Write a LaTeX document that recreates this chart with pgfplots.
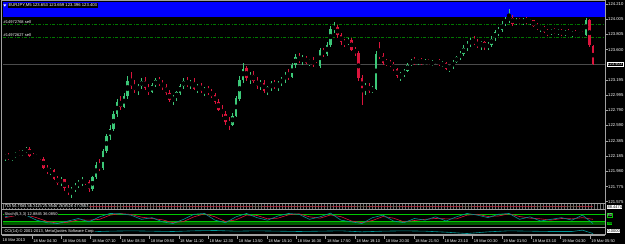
\documentclass[border=0pt]{standalone}
\usepackage{pgfplots}
\pgfplotsset{compat=1.18}
\usepackage{pgfplotstable}
\usepackage{fontspec}
\setmainfont{Liberation Sans}
\usetikzlibrary{patterns}
\definecolor{bull}{RGB}{60,200,120}
\definecolor{bear}{RGB}{220,20,60}
\definecolor{sep}{RGB}{160,160,160}
\definecolor{hatch}{RGB}{110,110,110}
\definecolor{ordgreen}{RGB}{0,120,0}
\definecolor{lvl}{RGB}{0,200,0}
\definecolor{band}{RGB}{0,90,0}
\definecolor{tealc}{RGB}{0,150,150}
\definecolor{bidc}{RGB}{75,75,75}
\newcommand\tf{\fontsize{4.2}{5}\selectfont}
\newcommand\smf{\fontsize{4}{5}\selectfont}

\pgfplotstableread{
k o h l c
0 122.17 122.21 122.12 122.19
1 122.19 122.22 122.13 122.15
2 122.15 122.19 122.12 122.17
3 122.17 122.24 122.16 122.22
4 122.22 122.27 122.19 122.21
5 122.21 122.26 122.18 122.24
6 122.24 122.30 122.22 122.28
7 122.28 122.30 122.17 122.19
8 122.19 122.22 122.14 122.16
9 122.16 122.21 122.14 122.19
10 122.19 122.20 122.13 122.15
11 122.15 122.17 122.01 122.03
12 122.03 122.06 121.94 121.97
13 121.97 122.02 121.93 122.00
14 122.00 122.01 121.86 121.88
15 121.88 121.92 121.80 121.83
16 121.83 121.90 121.79 121.87
17 121.87 121.88 121.72 121.75
18 121.75 121.80 121.66 121.70
19 121.70 121.77 121.62 121.74
20 121.74 121.82 121.70 121.79
21 121.79 121.86 121.76 121.83
22 121.83 121.90 121.78 121.86
23 121.86 121.88 121.80 121.84
24 121.84 121.86 121.70 121.74
25 121.74 121.92 121.72 121.90
26 121.90 122.10 121.88 122.06
27 122.06 122.14 121.98 122.02
28 122.02 122.28 122.00 122.25
29 122.25 122.48 122.22 122.45
30 122.45 122.60 122.40 122.55
31 122.55 122.78 122.52 122.74
32 122.74 122.95 122.70 122.90
33 122.90 122.98 122.80 122.84
34 122.84 123.02 122.82 122.98
35 122.98 123.25 122.95 123.18
36 123.18 123.30 123.08 123.12
37 123.12 123.20 123.02 123.06
38 123.06 123.15 123.00 123.12
39 123.12 123.22 123.08 123.18
40 123.18 123.24 123.06 123.09
41 123.09 123.14 123.00 123.04
42 123.04 123.16 123.02 123.13
43 123.13 123.22 123.10 123.19
44 123.19 123.24 123.12 123.15
45 123.15 123.20 123.07 123.10
46 123.10 123.14 123.00 123.02
47 123.02 123.06 122.90 122.93
48 122.93 123.00 122.86 122.97
49 122.97 123.05 122.92 123.03
50 123.03 123.15 123.00 123.12
51 123.12 123.22 123.08 123.18
52 123.18 123.24 123.10 123.13
53 123.13 123.20 123.08 123.17
54 123.17 123.22 123.06 123.08
55 123.08 123.14 123.02 123.11
56 123.11 123.16 123.03 123.05
57 123.05 123.10 122.98 123.07
58 123.07 123.12 123.00 123.03
59 123.03 123.08 122.96 122.99
60 122.99 123.02 122.88 122.90
61 122.90 122.94 122.78 122.80
62 122.80 122.86 122.70 122.74
63 122.74 122.78 122.60 122.64
64 122.64 122.70 122.53 122.60
65 122.60 122.76 122.58 122.72
66 122.72 122.98 122.70 122.95
67 122.95 123.25 122.92 123.20
68 123.20 123.42 123.15 123.35
69 123.35 123.38 123.18 123.22
70 123.22 123.30 123.14 123.26
71 123.26 123.32 123.15 123.18
72 123.18 123.24 123.08 123.12
73 123.12 123.20 123.06 123.16
74 123.16 123.19 123.02 123.05
75 123.05 123.12 123.00 123.10
76 123.10 123.18 123.05 123.15
77 123.15 123.20 123.08 123.11
78 123.11 123.18 123.05 123.16
79 123.16 123.24 123.12 123.21
80 123.21 123.30 123.16 123.27
81 123.27 123.34 123.20 123.24
82 123.24 123.42 123.22 123.40
83 123.40 123.54 123.36 123.50
84 123.50 123.56 123.42 123.45
85 123.45 123.53 123.40 123.49
86 123.49 123.52 123.41 123.43
87 123.43 123.48 123.38 123.46
88 123.46 123.50 123.37 123.40
89 123.40 123.44 123.35 123.38
90 123.38 123.63 123.36 123.60
91 123.60 123.62 123.50 123.54
92 123.54 123.70 123.52 123.66
93 123.66 123.92 123.64 123.88
94 123.88 123.97 123.82 123.90
95 123.90 123.93 123.76 123.80
96 123.80 123.83 123.66 123.70
97 123.70 123.75 123.64 123.68
98 123.68 123.76 123.66 123.73
99 123.73 123.75 123.58 123.60
100 123.60 123.64 123.52 123.56
101 123.56 123.58 123.18 123.22
102 123.22 123.26 122.86 123.08
103 123.08 123.16 123.00 123.12
104 123.12 123.15 123.02 123.05
105 123.05 123.12 123.02 123.08
106 123.08 123.58 123.06 123.55
107 123.55 123.70 123.48 123.52
108 123.52 123.56 123.40 123.43
109 123.43 123.48 123.38 123.42
110 123.42 123.46 123.37 123.40
111 123.40 123.43 123.32 123.34
112 123.34 123.36 123.22 123.25
113 123.25 123.30 123.18 123.27
114 123.27 123.34 123.24 123.32
115 123.32 123.42 123.30 123.40
116 123.40 123.48 123.38 123.45
117 123.45 123.50 123.40 123.43
118 123.43 123.48 123.40 123.46
119 123.46 123.49 123.40 123.42
120 123.42 123.47 123.39 123.45
121 123.45 123.48 123.40 123.41
122 123.41 123.46 123.38 123.44
123 123.44 123.48 123.41 123.46
124 123.46 123.48 123.39 123.40
125 123.40 123.45 123.37 123.42
126 123.42 123.44 123.33 123.35
127 123.35 123.40 123.30 123.38
128 123.38 123.46 123.35 123.44
129 123.44 123.52 123.42 123.50
130 123.50 123.58 123.46 123.55
131 123.55 123.66 123.52 123.62
132 123.62 123.72 123.58 123.68
133 123.68 123.76 123.64 123.72
134 123.72 123.78 123.66 123.69
135 123.69 123.74 123.62 123.66
136 123.66 123.72 123.60 123.70
137 123.70 123.72 123.60 123.63
138 123.63 123.70 123.60 123.67
139 123.67 123.78 123.64 123.75
140 123.75 123.86 123.72 123.83
141 123.83 123.90 123.78 123.86
142 123.86 123.98 123.84 123.95
143 123.95 124.04 123.92 124.00
144 124.00 124.15 123.96 124.02
145 124.02 124.06 123.92 123.95
146 123.95 124.02 123.93 124.00
147 124.00 124.03 123.94 123.96
148 123.96 124.02 123.93 124.00
149 124.00 124.04 123.95 123.97
150 123.97 124.01 123.93 123.99
151 123.99 124.00 123.90 123.92
152 123.92 123.96 123.86 123.89
153 123.89 123.93 123.84 123.91
154 123.91 123.92 123.82 123.84
155 123.84 123.88 123.79 123.82
156 123.82 123.88 123.80 123.86
157 123.86 123.89 123.81 123.83
158 123.83 123.88 123.80 123.85
159 123.85 123.88 123.79 123.81
160 123.81 123.86 123.79 123.84
161 123.84 123.87 123.79 123.80
162 123.80 123.85 123.77 123.83
163 123.83 123.86 123.78 123.79
164 123.79 123.84 123.77 123.82
165 123.82 123.85 123.78 123.80
166 123.80 124.03 123.79 124.00
167 124.00 124.01 123.64 123.66
168 123.653 123.659 123.396 123.403
}\candles

\pgfplotstableread{
k K D
0 60 55
3 75 67
6 70 72
9 40 55
12 25 33
15 20 22
18 35 28
21 50 42
24 30 40
27 60 45
30 80 70
33 78 79
36 70 74
39 45 58
42 55 50
45 30 42
48 20 25
51 45 32
54 75 60
57 80 78
60 40 60
63 25 32
66 60 42
69 80 70
72 55 68
75 40 48
78 65 52
81 80 72
84 75 78
87 45 60
90 60 52
93 82 71
96 40 61
99 30 35
102 20 25
105 55 38
108 70 62
111 35 52
114 25 30
117 50 38
120 40 45
123 60 50
126 35 48
129 60 48
132 80 70
135 70 75
138 55 62
141 75 65
144 80 78
147 45 62
150 60 52
153 35 48
156 45 40
159 55 50
162 40 48
165 70 55
168 20 45
}\stoch

\pgfplotstableread{
k v
0 60
6 55
12 50
18 40
24 45
30 55
36 60
42 55
48 50
54 60
60 65
66 55
72 60
78 55
84 50
90 55
96 60
102 45
108 55
114 60
120 55
126 40
132 20
138 45
144 60
150 55
156 50
162 50
165 70
168 20
}\lowind

\pgfplotstableread{
k r g
0 50 45
12 55 50
24 45 48
36 52 55
48 48 45
60 55 50
72 50 52
84 45 48
96 52 50
108 48 45
120 55 52
132 50 48
144 45 50
156 52 48
168 48 45
}\tdi

\begin{document}
\begin{tikzpicture}[x=1pt,y=1pt]
\fill[black] (0,0) rectangle (625,244);
\fill[blue] (3,227) rectangle (604.5,242);

% main price chart
\begin{axis}[
  at={(3pt,40.5pt)}, anchor=south west, scale only axis,
  width=602pt, height=201.5pt,
  xmin=-0.571, xmax=171.43, ymin=121.55, ymax=124.236,
  axis x line=none, axis y line*=right,
  y axis line style={draw=none},
  ytick={121.575,121.775,121.980,122.185,122.385,122.590,122.790,122.995,123.195,123.600,123.805,124.005,124.210},
  yticklabels={121.575,121.775,121.980,122.185,122.385,122.590,122.790,122.995,123.195,123.600,123.805,124.005,124.210},
  yticklabel style={font=\tf, text=white, inner sep=0pt, xshift=0.5pt},
  tick style={draw=sep, line width=0.5pt}, major tick length=2.5pt, tick align=outside,
  clip=true,
]
\addplot[ordgreen, line width=0.8pt, dash pattern=on 3pt off 1.5pt on 1pt off 1.5pt] coordinates {(-0.571,123.943) (171.43,123.943)};
\addplot[ordgreen, line width=0.8pt, dash pattern=on 3pt off 1.5pt on 1pt off 1.5pt] coordinates {(-0.571,123.770) (171.43,123.770)};
\addplot[bidc, line width=1pt] coordinates {(-0.571,123.403) (171.43,123.403)};
% wicks
\addplot[only marks, mark=none, restrict expr to domain={\thisrow{c}-\thisrow{o}}{0:10},
  error bars/.cd, y dir=both, y explicit, error mark=none, error bar style={draw=bull, line width=0.7pt}]
  table[x=k, y expr={(\thisrow{h}+\thisrow{l})/2}, y error expr={(\thisrow{h}-\thisrow{l})/2}] {\candles};
\addplot[only marks, mark=none, restrict expr to domain={\thisrow{c}-\thisrow{o}}{-10:-0.00001},
  error bars/.cd, y dir=both, y explicit, error mark=none, error bar style={draw=bear, line width=0.7pt}]
  table[x=k, y expr={(\thisrow{h}+\thisrow{l})/2}, y error expr={(\thisrow{h}-\thisrow{l})/2}] {\candles};
% bodies
\addplot[only marks, mark=none, restrict expr to domain={\thisrow{c}-\thisrow{o}}{0:10},
  error bars/.cd, y dir=both, y explicit, error mark=none, error bar style={draw=bull, line width=2.5pt}]
  table[x=k, y expr={(\thisrow{o}+\thisrow{c})/2}, y error expr={(\thisrow{c}-\thisrow{o})/2}] {\candles};
\addplot[only marks, mark=none, restrict expr to domain={\thisrow{c}-\thisrow{o}}{-10:-0.00001},
  error bars/.cd, y dir=both, y explicit, error mark=none, error bar style={draw=bear, line width=2.5pt}]
  table[x=k, y expr={(\thisrow{o}+\thisrow{c})/2}, y error expr={(\thisrow{o}-\thisrow{c})/2}] {\candles};
\end{axis}

% TDI panel
\begin{axis}[
  at={(3pt,35.2pt)}, anchor=south west, scale only axis,
  width=602pt, height=4.6pt,
  xmin=-0.571, xmax=171.43, ymin=0, ymax=100, hide axis,
]
\addplot[draw=none, pattern=vertical lines, pattern color=hatch] coordinates {(-0.571,15) (171.43,15) (171.43,85) (-0.571,85)} -- cycle;
\addplot[bull!70!black, line width=0.4pt] table[x=k, y=g] {\tdi};
\addplot[bear, line width=0.45pt] table[x=k, y=r] {\tdi};
\end{axis}

% stochastic / RSI panel
\begin{axis}[
  at={(3pt,17.1pt)}, anchor=south west, scale only axis,
  width=602pt, height=16.8pt,
  xmin=-0.571, xmax=171.43, ymin=0, ymax=100, hide axis,
]
\addplot[draw=none, fill=band] coordinates {(-0.571,11) (171.43,11) (171.43,31) (-0.571,31)} -- cycle;
\addplot[lvl, line width=0.6pt] coordinates {(-0.571,75) (171.43,75)};
\addplot[lvl, line width=0.6pt] coordinates {(-0.571,31) (171.43,31)};
\addplot[bear, line width=0.6pt] table[x=k, y=D] {\stoch};
\addplot[tealc, line width=0.6pt] table[x=k, y=K] {\stoch};
\end{axis}

% lowest panel with time axis
\begin{axis}[
  at={(3pt,9.1pt)}, anchor=south west, scale only axis,
  width=602pt, height=6.8pt,
  xmin=-0.571, xmax=171.43, ymin=0, ymax=100,
  axis y line=none, axis x line*=bottom, x axis line style={draw=none},
  xtick={7.714,16.105,24.496,32.887,41.278,49.669,58.060,66.451,74.842,83.233,91.624,100.015,108.406,116.797,125.188,133.579,141.970,150.361,158.752,167.143},
  xticklabels={18 Mar 04:30,18 Mar 05:50,18 Mar 07:10,18 Mar 08:30,18 Mar 09:50,18 Mar 11:10,18 Mar 12:30,18 Mar 13:50,18 Mar 15:10,18 Mar 16:30,18 Mar 17:50,18 Mar 19:10,18 Mar 20:30,18 Mar 21:50,18 Mar 23:10,19 Mar 00:30,19 Mar 01:50,19 Mar 03:10,19 Mar 04:30,19 Mar 05:50},
  xticklabel style={font=\smf, text=white, anchor=west, inner sep=0pt, xshift=1.2pt, yshift=-2.2pt},
  tick style={draw=sep, line width=0.5pt}, major tick length=4pt, tick align=outside,
]
\addplot[tealc, line width=0.6pt] table[x=k, y=v] {\lowind};
\end{axis}

% frame and separators
\draw[sep, line width=1pt] (1.5,8.5) -- (1.5,243.5) -- (605,243.5) -- (605,8.5);
\foreach \yy in {40.5,34.5,16.5,9} \draw[sep, line width=1.2pt] (1.5,\yy) -- (605,\yy);

% texts
\fill[white] (3.3,239.6) -- (6.3,239.6) -- (4.8,237.4) -- cycle;
\node[anchor=west, fill=black, text=white, inner sep=0.6pt, font=\tf] at (7.8,238.6) {EURJPY,M5 123.653 123.659 123.396 123.403};
\node[anchor=south west, text=white, inner sep=0pt, font=\smf] at (3.5,220.6) {\#14972768 sell};
\node[anchor=south west, text=white, inner sep=0pt, font=\smf] at (3.5,207.6) {\#14972627 sell};
\node[anchor=west, draw=white, fill=black, text=white, inner sep=0.5pt, line width=0.4pt, font=\tf] at (606.5,180) {123.403};
\node[anchor=west, fill=black, text=white, inner sep=0.4pt, font=\smf] at (4,37.6) {TDI 56.7584 46.3115 25.8546 26.8526 47.0563};
\node[anchor=west, fill=black, text=white, inner sep=0.4pt, font=\smf] at (4,29.8) {Stoch(5,3,3) 12.8845 36.0850};
\node[anchor=west, fill=black, text=white, inner sep=0.4pt, font=\smf] at (4,12.6) {CCI(14) \textcopyright\ 2001-2013, MetaQuotes Software Corp.};
\node[anchor=west, fill=white, text=black, inner sep=0.4pt, font=\smf] at (607,37.2) {88.4474};
\node[anchor=west, draw=lvl, fill=black, text=white, inner sep=0.4pt, font=\smf] at (607,28.5) {80};
\node[anchor=west, fill=lvl, text=black, inner sep=0.4pt, font=\smf] at (607,20.5) {30};
\node[anchor=west, fill=white, text=black, inner sep=0.4pt, font=\smf] at (607,13) {0.0000};
\node[anchor=west, text=white, inner sep=0pt, font=\smf] at (2.5,3.8) {18 Mar 2013};
\pgfresetboundingbox
\path[use as bounding box] (0,0) rectangle (625,244);
\end{tikzpicture}
\end{document}
